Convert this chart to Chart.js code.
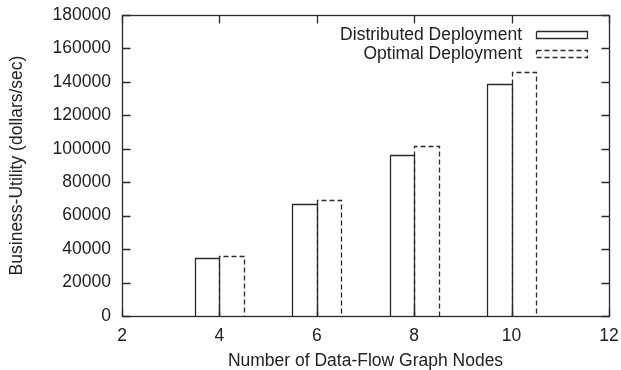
<!DOCTYPE html>
<html>
<head>
<meta charset="utf-8">
<script src="https://cdn.jsdelivr.net/npm/chart.js@4/dist/chart.umd.min.js"></script>
<style>
  html, body { margin: 0; padding: 0; background: #fff; }
  #wrap { width: 621px; height: 370px; }
</style>
</head>
<body>
<div id="wrap"><canvas id="c" width="621" height="370"></canvas></div>
<script>
// Number of data-flow graph nodes
const nodes = [4, 6, 8, 10];
// Business utility (dollars/sec)
const distributed = [34500, 67000, 96000, 139000];
const optimal = [36000, 69500, 101500, 146000];
const seriesNames = ['Distributed Deployment', 'Optimal Deployment'];
const xTitle = 'Number of Data-Flow Graph Nodes';
const yTitle = 'Business-Utility (dollars/sec)';

const INK = '#2a2a2a';
const TEXT = '#222222';
const FONT = 'Liberation Sans, Arial, sans-serif';
const FS = 17.5;

const toPoints = vals => nodes.map((n, i) => ({ x: n, y: vals[i] }));

// Box frame, inward ticks, outlined bars and inset key
const framePlugin = {
  id: 'frame',
  afterDatasetsDraw(chart) {
    const { ctx, chartArea: a, scales } = chart;
    ctx.save();
    ctx.strokeStyle = INK;
    ctx.lineWidth = 1.3;
    // bars outlined (bottom edge sits on the axis)
    chart.data.datasets.forEach((ds, di) => {
      const meta = chart.getDatasetMeta(di);
      ctx.setLineDash(ds.outlineDash || []);
      meta.data.forEach(bar => {
        const p = bar.getProps(['x', 'y', 'base', 'width'], true);
        const l = Math.round(p.x - p.width / 2) + 0.5;
        const r = Math.round(p.x + p.width / 2) + 0.5;
        const t = Math.round(p.y) + 0.5;
        const b = Math.round(p.base) + 0.5;
        ctx.beginPath();
        ctx.moveTo(l, b);
        ctx.lineTo(l, t);
        ctx.lineTo(r, t);
        ctx.lineTo(r, b);
        ctx.stroke();
      });
    });
    ctx.setLineDash([]);
    // frame
    const L = Math.round(a.left) + 0.5, R = Math.round(a.right) + 0.5;
    const T = Math.round(a.top) + 0.5, B = Math.round(a.bottom) + 0.5;
    ctx.strokeRect(L, T, R - L, B - T);
    const tl = 8;
    // y ticks on left and right
    scales.y.ticks.forEach(t => {
      const y = Math.round(scales.y.getPixelForValue(t.value)) + 0.5;
      ctx.beginPath();
      ctx.moveTo(L, y); ctx.lineTo(L + tl, y);
      ctx.moveTo(R, y); ctx.lineTo(R - tl, y);
      ctx.stroke();
    });
    // x ticks on bottom and top
    scales.x.ticks.forEach(t => {
      const x = Math.round(scales.x.getPixelForValue(t.value)) + 0.5;
      ctx.beginPath();
      ctx.moveTo(x, B); ctx.lineTo(x, B - tl);
      ctx.moveTo(x, T); ctx.lineTo(x, T + tl);
      ctx.stroke();
    });
    // key, top right inside the plot
    ctx.font = FS + 'px ' + FONT;
    ctx.fillStyle = TEXT;
    ctx.textAlign = 'right';
    ctx.textBaseline = 'middle';
    const textRight = a.right - 87;
    const sampleL = Math.round(a.right - 73) + 0.5;
    const sampleW = 51;
    chart.data.datasets.forEach((ds, i) => {
      const y = a.top + 19.5 + i * 18.5;
      ctx.fillText(ds.label, textRight, y + 1);
      ctx.setLineDash(ds.outlineDash || []);
      const ry = Math.round(y - 3.5) + 0.5;
      ctx.beginPath();
      ctx.moveTo(sampleL, ry);
      ctx.lineTo(sampleL + sampleW, ry);
      ctx.lineTo(sampleL + sampleW, ry + 7);
      ctx.lineTo(sampleL, ry + 7);
      ctx.lineTo(sampleL, ry);
      ctx.stroke();
    });
    ctx.restore();
  }
};

new Chart(document.getElementById('c'), {
  type: 'bar',
  data: {
    datasets: [
      { label: seriesNames[0], data: toPoints(distributed), backgroundColor: 'rgba(0,0,0,0)', borderWidth: 0, outlineDash: [] },
      { label: seriesNames[1], data: toPoints(optimal), backgroundColor: 'rgba(0,0,0,0)', borderWidth: 0, outlineDash: [5, 3] }
    ]
  },
  options: {
    responsive: false,
    animation: false,
    categoryPercentage: 0.5,
    barPercentage: 1.0,
    layout: { padding: { top: 15, right: 12, left: 0, bottom: 0 } },
    plugins: {
      legend: { display: false },
      tooltip: { enabled: false }
    },
    scales: {
      x: {
        type: 'linear',
        min: 2, max: 12,
        offset: false,
        grid: { display: false, drawTicks: false },
        border: { display: false },
        ticks: { stepSize: 2, color: TEXT, font: { family: FONT, size: FS }, padding: 10, maxRotation: 0 },
        title: { display: true, text: xTitle, color: TEXT, font: { family: FONT, size: FS }, padding: { top: 0, bottom: -2 } },
        afterFit(s) { s.height = 54; s.paddingLeft = 0; s.paddingRight = 0; }
      },
      y: {
        min: 0, max: 180000,
        grid: { display: false, drawTicks: false },
        border: { display: false },
        ticks: {
          stepSize: 20000, color: TEXT, font: { family: FONT, size: FS }, padding: 11,
          callback: v => String(v)
        },
        title: { display: true, text: yTitle, color: TEXT, font: { family: FONT, size: FS }, padding: { top: 6.5, bottom: 0 } },
        afterFit(s) { s.width = 122; s.paddingTop = 0; s.paddingBottom = 0; }
      }
    }
  },
  plugins: [framePlugin]
});
</script>
</body>
</html>
